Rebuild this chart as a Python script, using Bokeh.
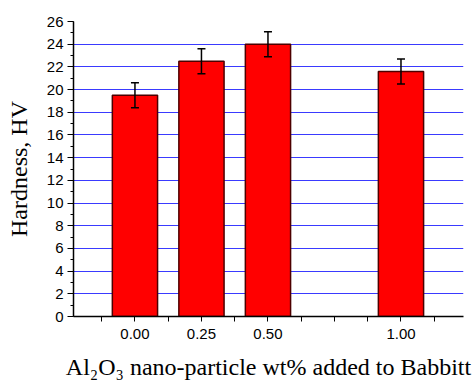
from bokeh.plotting import figure
from bokeh.models import (ColumnDataSource, Whisker, TeeHead, FixedTicker,
                          SingleIntervalTicker, Range1d)
from bokeh.embed import file_html
from bokeh.resources import INLINE

# ---- data ----
wt_percent = [0.00, 0.25, 0.50, 1.00]
hardness = [19.5, 22.5, 24.0, 21.6]
hardness_err = [1.1, 1.1, 1.1, 1.1]
x_major_ticks = [0.00, 0.25, 0.50, 0.75, 1.00]
x_tick_labels = ["0.00", "0.25", "0.50", "", "1.00"]
x_minor_ticks = [-0.125, 0.125, 0.375, 0.625, 0.875, 1.125]
x_title = "Al\u2082O\u2083 nano-particle wt% added to Babbitt"
y_title = "Hardness, HV"

XMIN, XMAX = -0.231, 1.235

src = ColumnDataSource(dict(
    x=wt_percent, top=hardness,
    upper=[h + e for h, e in zip(hardness, hardness_err)],
    lower=[h - e for h, e in zip(hardness, hardness_err)],
))

p = figure(width=472, height=382, output_backend="svg", toolbar_location=None,
           x_range=Range1d(XMIN, XMAX), y_range=Range1d(0, 26),
           min_border_left=73, min_border_right=9, min_border_top=21,
           min_border_bottom=65)
p.outline_line_color = None
p.background_fill_color = "white"
p.border_fill_color = "white"

# grid
p.xgrid.grid_line_color = None
p.ygrid.grid_line_color = "#3a3aff"
p.ygrid.grid_line_width = 1

# bars
p.vbar(x="x", top="top", width=0.17, bottom=0, source=src,
       fill_color="#ff0000", line_color="#4d0000", line_width=1.5)

# error bars
w = Whisker(base="x", upper="upper", lower="lower", source=src,
            line_color="black", line_width=1.5, level="overlay",
            upper_head=TeeHead(size=8, line_color="black", line_width=1.5),
            lower_head=TeeHead(size=8, line_color="black", line_width=1.5))
p.add_layout(w)

# y axis
yax = p.yaxis[0]
yax.ticker = SingleIntervalTicker(interval=2, num_minor_ticks=2)
yax.axis_label = y_title
yax.axis_label_text_font = "Liberation Serif"
yax.axis_label_text_font_size = "24px"
yax.axis_label_text_font_style = "normal"
yax.axis_label_text_color = "black"
yax.axis_label_standoff = 12
yax.major_label_text_font = "Liberation Sans"
yax.major_label_text_font_size = "15px"
yax.major_label_text_color = "black"
yax.major_label_standoff = 4
yax.major_tick_out = 6
yax.major_tick_in = 0
yax.minor_tick_out = 3
yax.minor_tick_in = 0
yax.axis_line_width = 1.5
yax.axis_line_color = "black"
yax.major_tick_line_color = "black"
yax.minor_tick_line_color = "black"

# x axis
xax = p.xaxis[0]
xax.ticker = FixedTicker(ticks=x_major_ticks, minor_ticks=x_minor_ticks)
xax.major_label_overrides = {t: l for t, l in zip(x_major_ticks, x_tick_labels)}
xax.major_label_text_font = "Liberation Sans"
xax.major_label_text_font_size = "15px"
xax.major_label_text_color = "black"
xax.major_label_standoff = 7
xax.major_tick_out = 5
xax.major_tick_in = 0
xax.minor_tick_out = 5
xax.minor_tick_in = 0
xax.axis_line_width = 1.5
xax.axis_line_color = "black"
xax.major_tick_line_color = "black"
xax.minor_tick_line_color = "black"
xax.axis_label = x_title
xax.axis_label_text_font = "Liberation Serif"
xax.axis_label_text_font_size = "24px"
xax.axis_label_text_font_style = "normal"
xax.axis_label_text_color = "black"
xax.axis_label_standoff = 12

open("out.html", "w").write(file_html(p, INLINE))
